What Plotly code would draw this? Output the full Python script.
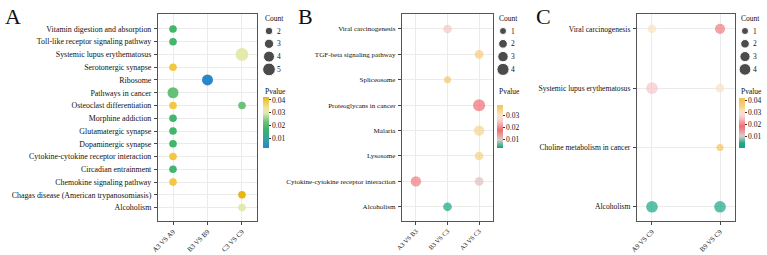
import plotly.graph_objects as go

W, H = 767, 255
def px(x): return x / W
def py(y): return 1 - y / H

FONT = "Liberation Serif"

# ---------------- Panel A data ----------------
A_terms = ["Vitamin digestion and absorption", "Toll-like receptor signaling pathway",
           "Systemic lupus erythematosus", "Serotonergic synapse", "Ribosome",
           "Pathways in cancer", "Osteoclast differentiation", "Morphine addiction",
           "Glutamatergic synapse", "Dopaminergic synapse",
           "Cytokine-cytokine receptor interaction", "Circadian entrainment",
           "Chemokine signaling pathway", "Chagas disease (American trypanosomiasis)",
           "Alcoholism"]
A_groups = ["A3 VS A9", "B3 VS B9", "C3 VS C9"]
A_pt_term = ["Vitamin digestion and absorption", "Toll-like receptor signaling pathway",
             "Systemic lupus erythematosus", "Serotonergic synapse", "Ribosome",
             "Pathways in cancer", "Osteoclast differentiation", "Osteoclast differentiation",
             "Morphine addiction", "Glutamatergic synapse", "Dopaminergic synapse",
             "Cytokine-cytokine receptor interaction", "Circadian entrainment",
             "Chemokine signaling pathway", "Chagas disease (American trypanosomiasis)",
             "Alcoholism"]
A_pt_group = ["A3 VS A9", "A3 VS A9", "C3 VS C9", "A3 VS A9", "B3 VS B9", "A3 VS A9",
              "A3 VS A9", "C3 VS C9", "A3 VS A9", "A3 VS A9", "A3 VS A9", "A3 VS A9",
              "A3 VS A9", "A3 VS A9", "C3 VS C9", "C3 VS C9"]
A_count = [2, 2, 5, 2, 4, 4, 2, 2, 2, 2, 2, 2, 2, 2, 2, 2]
A_pval = [0.018, 0.018, 0.031, 0.039, 0.003, 0.022, 0.039, 0.023, 0.018, 0.018, 0.018,
          0.039, 0.018, 0.039, 0.042, 0.031]
A_count_breaks = [2, 3, 4, 5]
A_p_ticks = [0.01, 0.02, 0.03, 0.04]

# ---------------- Panel B data ----------------
B_terms = ["Viral carcinogenesis", "TGF-beta signaling pathway", "Spliceosome",
           "Proteoglycans in cancer", "Malaria", "Lysosome",
           "Cytokine-cytokine receptor interaction", "Alcoholism"]
B_groups = ["A3 VS B3", "B3 VS C3", "A3 VS C3"]
B_pt_term = ["Viral carcinogenesis", "TGF-beta signaling pathway", "Spliceosome",
             "Proteoglycans in cancer", "Malaria", "Lysosome",
             "Cytokine-cytokine receptor interaction", "Cytokine-cytokine receptor interaction",
             "Alcoholism"]
B_pt_group = ["B3 VS C3", "A3 VS C3", "B3 VS C3", "A3 VS C3", "A3 VS C3", "A3 VS C3",
              "A3 VS B3", "A3 VS C3", "B3 VS C3"]
B_count = [2, 2, 1, 4, 3, 2, 3, 2, 2]
B_pval = [0.025, 0.036, 0.038, 0.018, 0.034, 0.035, 0.019, 0.011, 0.003]
B_count_breaks = [1, 2, 3, 4]
B_p_ticks = [0.01, 0.02, 0.03]

# ---------------- Panel C data ----------------
C_terms = ["Viral carcinogenesis", "Systemic lupus erythematosus",
           "Choline metabolism in cancer", "Alcoholism"]
C_groups = ["A9 VS C9", "B9 VS C9"]
C_pt_term = ["Viral carcinogenesis", "Viral carcinogenesis", "Systemic lupus erythematosus",
             "Systemic lupus erythematosus", "Choline metabolism in cancer",
             "Alcoholism", "Alcoholism"]
C_pt_group = ["A9 VS C9", "B9 VS C9", "A9 VS C9", "B9 VS C9", "B9 VS C9",
              "A9 VS C9", "B9 VS C9"]
C_count = [2, 3, 4, 2, 1, 4, 4]
C_pval = [0.031, 0.019, 0.025, 0.031, 0.040, 0.001, 0.001]
C_count_breaks = [1, 2, 3, 4]
C_p_ticks = [0.01, 0.02, 0.03, 0.04]

# ---------------- styles ----------------
def scale_from_values(stops, cmin, cmax):
    out = []
    for v, c in stops:
        t = (v - cmin) / (cmax - cmin)
        t = min(max(t, 0.0), 1.0)
        out.append([t, c])
    out[0][0] = 0.0
    out[-1][0] = 1.0
    return out

A_stops = [(0.0026, "#2A86C9"), (0.010, "#33A49B"), (0.017, "#3BB36B"),
           (0.023, "#6CC27A"), (0.030, "#E0EBB2"), (0.034, "#EEE49A"),
           (0.039, "#F2C744"), (0.0423, "#E6B30F")]
BC_stops = [(0.0, "#15A584"), (0.004, "#20A887"), (0.010, "#DCCDC8"), (0.018, "#EE6E73"),
            (0.025, "#F7C4C6"), (0.028, "#FADCD6"), (0.031, "#F9E2C0"), (0.033, "#F8D898"),
            (0.036, "#F6CC78"), (0.039, "#F5C35F"), (0.042, "#F5C05A")]

A_cmin, A_cmax = 0.0026, 0.0423
B_cmin, B_cmax = 0.0032, 0.0389
C_cmin, C_cmax = 0.0, 0.0417

def sizeA(c): return 4.2 + 1.7 * c
def sizeB(c): return 5.3 + 1.7 * c
def sizeC(c): return 5.5 + 1.55 * c

fig = go.Figure()

fig.add_trace(go.Scatter(x=A_pt_group, y=A_pt_term, mode="markers", xaxis="x", yaxis="y",
                         marker=dict(size=[sizeA(c) for c in A_count], color=A_pval,
                                     coloraxis="coloraxis", line=dict(width=0), opacity=1),
                         cliponaxis=False, showlegend=False, hoverinfo="skip"))
fig.add_trace(go.Scatter(x=B_pt_group, y=B_pt_term, mode="markers", xaxis="x2", yaxis="y2",
                         marker=dict(size=[sizeB(c) for c in B_count], color=B_pval,
                                     coloraxis="coloraxis2", line=dict(width=0)),
                         cliponaxis=False, showlegend=False, hoverinfo="skip"))
fig.add_trace(go.Scatter(x=C_pt_group, y=C_pt_term, mode="markers", xaxis="x3", yaxis="y3",
                         marker=dict(size=[sizeC(c) for c in C_count], color=C_pval,
                                     coloraxis="coloraxis3", line=dict(width=0)),
                         cliponaxis=False, showlegend=False, hoverinfo="skip"))

# size legends (aux axes 4,5,6)
LEG_TOP = 31.0
LEG_STEP = 12.8
for k, (breaks, szf, cx) in enumerate([(A_count_breaks, sizeA, 269),
                                        (B_count_breaks, sizeB, 503),
                                        (C_count_breaks, sizeC, 745)]):
    ax = str(4 + k)
    fig.add_trace(go.Scatter(x=[0.5] * len(breaks), y=[-i for i in range(len(breaks))],
                             mode="markers", xaxis="x" + ax, yaxis="y" + ax,
                             marker=dict(size=[szf(b) for b in breaks], color="black"),
                             cliponaxis=False, showlegend=False, hoverinfo="skip"))
    fig.layout["xaxis" + ax] = dict(domain=[px(cx - 5), px(cx + 5)], range=[0, 1], visible=False,
                                    fixedrange=True, automargin=False)
    top = LEG_TOP - LEG_STEP / 2
    bot = top + LEG_STEP * len(breaks)
    fig.layout["yaxis" + ax] = dict(domain=[py(bot), py(top)],
                                    range=[-len(breaks) + 0.5, 0.5], visible=False,
                                    fixedrange=True, anchor="x" + ax, automargin=False)
    for i, b in enumerate(breaks):
        fig.add_annotation(x=px(cx + 6), y=py(LEG_TOP + LEG_STEP * i), xref="paper", yref="paper",
                           text=str(b), showarrow=False, xanchor="left", yanchor="middle",
                           font=dict(family=FONT, size=7.5, color="#111"))
    fig.add_annotation(x=px(cx - 6), y=py(19), xref="paper", yref="paper", text="Count",
                       showarrow=False, xanchor="left", yanchor="middle",
                       font=dict(family=FONT, size=7.5, color="#111"))
    fig.add_annotation(x=px(cx - 6), y=py(91), xref="paper", yref="paper", text="Pvalue",
                       showarrow=False, xanchor="left", yanchor="middle",
                       font=dict(family=FONT, size=7.5, color="#111"))

grid = "#EBEBEB"
frame = "#555555"
def xax(domain, groups, rng, fs):
    return dict(domain=domain, type="category", categoryorder="array", categoryarray=groups,
                range=rng, showgrid=True, gridcolor=grid, gridwidth=0.8,
                tickangle=-45, ticks="outside", ticklen=3, tickwidth=0.8, tickcolor="#444",
                tickfont=dict(family=FONT, size=fs, color="#111"),
                showline=True, linecolor=frame, linewidth=1.2, mirror=True, zeroline=False,
                fixedrange=True, automargin=False, ticklabelstandoff=0)
def yax(domain, terms, rng, fs, anchor):
    return dict(domain=domain, type="category", categoryorder="array",
                categoryarray=list(reversed(terms)), range=rng, showgrid=True, gridcolor=grid,
                gridwidth=0.8, ticks="outside", ticklen=3, tickwidth=0.8, tickcolor="#444",
                tickfont=dict(family=FONT, size=fs, color="#111"), anchor=anchor,
                showline=True, linecolor=frame, linewidth=1.2, mirror=True, zeroline=False,
                fixedrange=True, ticklabelstandoff=1, automargin=False)

ydom = [py(221), py(14)]
fig.update_layout(
    xaxis=xax([px(158), px(257)], A_groups, [-0.435, 2.435], 6.9),
    yaxis=yax(ydom, A_terms, [-1.05, 15.17], 7.9, "x"),
    xaxis2=xax([px(402), px(493)], B_groups, [-0.44, 2.44], 6.4),
    yaxis2=yax(ydom, B_terms, [-0.56, 7.59], 7.05, "x2"),
    xaxis3=xax([px(637), px(735)], C_groups, [-0.22, 1.22], 6.9),
    yaxis3=yax(ydom, C_terms, [-0.24, 3.25], 7.6, "x3"),
)
fig.layout.xaxis2.anchor = "y2"
fig.layout.xaxis3.anchor = "y3"

def cbar(x, ytop, ybot, ticks):
    return dict(x=px(x), xanchor="left", xpad=0, ypad=0, y=py(ytop), yanchor="top",
                len=ybot - ytop, lenmode="pixels", thickness=6, thicknessmode="pixels",
                outlinewidth=0, tickvals=ticks, ticktext=[f"{t:.2f}" for t in ticks],
                ticks="outside", ticklen=2, tickwidth=0.8, tickcolor="#333",
                tickfont=dict(family=FONT, size=7.5, color="#111"), title=dict(text=""))

fig.update_layout(
    coloraxis=dict(cmin=A_cmin, cmax=A_cmax, colorscale=scale_from_values(A_stops, A_cmin, A_cmax),
                   colorbar=cbar(263, 97, 148, A_p_ticks)),
    coloraxis2=dict(cmin=B_cmin, cmax=B_cmax, colorscale=scale_from_values(BC_stops, B_cmin, B_cmax),
                    colorbar=cbar(497, 105, 148, B_p_ticks)),
    coloraxis3=dict(cmin=C_cmin, cmax=C_cmax, colorscale=scale_from_values(BC_stops, C_cmin, C_cmax),
                    colorbar=cbar(739, 98, 148, C_p_ticks)),
)

for letter, x in [("A", 3), ("B", 296), ("C", 534)]:
    fig.add_annotation(x=px(x), y=py(2), xref="paper", yref="paper", text=letter,
                       showarrow=False, xanchor="left", yanchor="top",
                       font=dict(family=FONT, size=22, color="#111"))

fig.update_layout(width=W, height=H, margin=dict(l=0, r=0, t=0, b=0, autoexpand=False),
                  paper_bgcolor="white", plot_bgcolor="white", showlegend=False,
                  font=dict(family=FONT, color="#111"))

fig.write_html("out.html")
